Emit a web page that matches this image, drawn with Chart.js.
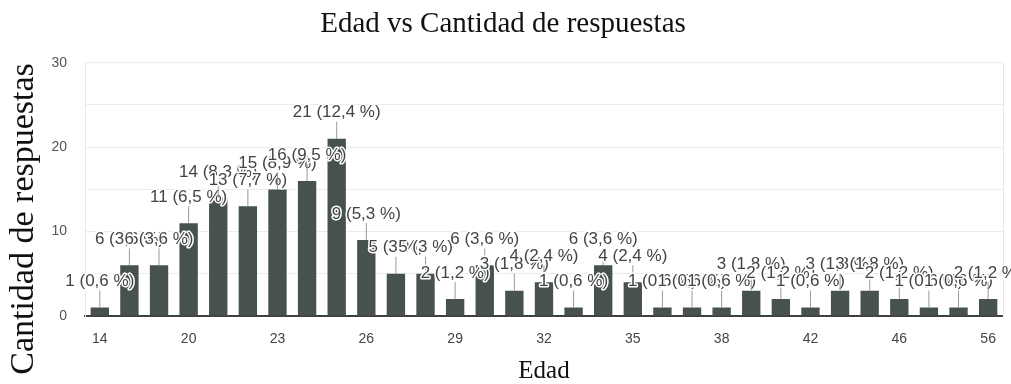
<!DOCTYPE html>
<html>
<head>
<meta charset="utf-8">
<title>Edad vs Cantidad de respuestas</title>
<script src="https://cdn.jsdelivr.net/npm/chart.js@4.4.1/dist/chart.umd.min.js"></script>
<style>
  html, body { margin: 0; padding: 0; background: #fff; }
  #wrap { width: 1011px; height: 384px; }
</style>
</head>
<body>
<div id="wrap"><canvas id="edad-chart"></canvas></div>
<script>
// Datos: edad de cada grupo y cantidad de respuestas
const edades = [14, 18, 19, 20, 21, 22, 23, 24, 25, 26, 27, 28, 29, 30, 31, 32,
                33, 34, 35, 36, 37, 38, 39, 40, 42, 43, 44, 46, 48, 50, 56];
const respuestas = [1, 6, 6, 11, 14, 13, 15, 16, 21, 9, 5, 5, 2, 6, 3, 4,
                    1, 6, 4, 1, 1, 1, 3, 2, 1, 3, 3, 2, 1, 1, 2];
const yTicks = [0, 10, 20, 30];

const total = respuestas.reduce((s, v) => s + v, 0);

function etiqueta(v) {
    const pct = (v / total * 100).toFixed(1).replace(/\.0$/, '').replace('.', ',');
    return `${v} (${pct} %)`;
}

const serif = '"Liberation Serif", "Times New Roman", serif';
const sans = '"Liberation Sans", Arial, sans-serif';

// Línea guía + etiqueta encima de cada barra
const etiquetasBarras = {
    id: 'etiquetasBarras',
    afterDatasetsDraw(chart) {
        const ctx = chart.ctx;
        const meta = chart.getDatasetMeta(0);
        ctx.save();
        ctx.font = '17px ' + sans;
        ctx.textAlign = 'center';
        ctx.textBaseline = 'middle';
        ctx.lineJoin = 'round';
        meta.data.forEach((bar, i) => {
            ctx.beginPath();
            ctx.moveTo(bar.x, bar.y);
            ctx.lineTo(bar.x, bar.y - 17);
            ctx.strokeStyle = '#9a9a9a';
            ctx.lineWidth = 1;
            ctx.stroke();

            const txt = etiqueta(respuestas[i]);
            ctx.strokeStyle = '#fff';
            ctx.lineWidth = 3;
            ctx.strokeText(txt, bar.x, bar.y - 26);
            ctx.fillStyle = '#444';
            ctx.fillText(txt, bar.x, bar.y - 26);
        });
        ctx.restore();
    }
};

// Marco lateral del área y título del eje Y
const marcoYTitulo = {
    id: 'marcoYTitulo',
    beforeDatasetsDraw(chart) {
        const { ctx, chartArea } = chart;
        ctx.save();
        ctx.strokeStyle = '#e6e6e6';
        ctx.lineWidth = 1;
        ctx.beginPath();
        ctx.moveTo(chartArea.right + 0.5, chartArea.top);
        ctx.lineTo(chartArea.right + 0.5, chartArea.bottom);
        ctx.stroke();
        ctx.restore();
    },
    afterDraw(chart) {
        const ctx = chart.ctx;
        ctx.save();
        ctx.translate(24, 219);
        ctx.rotate(-Math.PI / 2);
        ctx.font = '34px ' + serif;
        ctx.fillStyle = '#111';
        ctx.textAlign = 'center';
        ctx.textBaseline = 'middle';
        ctx.fillText('Cantidad de respuestas', 0, 0);
        ctx.restore();
    }
};

const ctx = document.getElementById('edad-chart').getContext('2d');

new Chart(ctx, {
    type: 'bar',
    data: {
        labels: edades,
        datasets: [{
            data: respuestas,
            backgroundColor: '#47524f',
            categoryPercentage: 1,
            barPercentage: 0.62
        }]
    },
    options: {
        responsive: true,
        maintainAspectRatio: false,
        animation: false,
        layout: { padding: { right: 5 } },
        plugins: {
            legend: { display: false },
            tooltip: { enabled: false },
            title: {
                display: true,
                text: 'Edad vs Cantidad de respuestas',
                color: '#111',
                font: { family: serif, size: 29, weight: 'normal' },
                padding: { top: 7, bottom: 21 }
            }
        },
        scales: {
            x: {
                grid: { display: false, drawTicks: false },
                border: { color: '#404040', width: 2 },
                ticks: {
                    autoSkip: false,
                    maxRotation: 0,
                    padding: 15,
                    color: '#444',
                    font: { family: sans, size: 14 },
                    callback: (val, idx) => idx % 3 === 0 ? edades[idx] : ''
                },
                title: {
                    display: true,
                    text: 'Edad',
                    color: '#111',
                    font: { family: serif, size: 25 },
                    padding: { top: 0, bottom: -2 }
                },
                afterFit(scale) { scale.height = 68; }
            },
            y: {
                min: 0,
                max: 30,
                grid: { color: '#ececec', drawTicks: false },
                border: { color: '#e6e6e6' },
                ticks: {
                    stepSize: 5,
                    padding: 18,
                    color: '#555',
                    font: { family: sans, size: 14 },
                    callback: v => yTicks.includes(v) ? v : ''
                },
                afterFit(scale) { scale.width = 85; }
            }
        }
    },
    plugins: [etiquetasBarras, marcoYTitulo]
});
</script>
</body>
</html>
